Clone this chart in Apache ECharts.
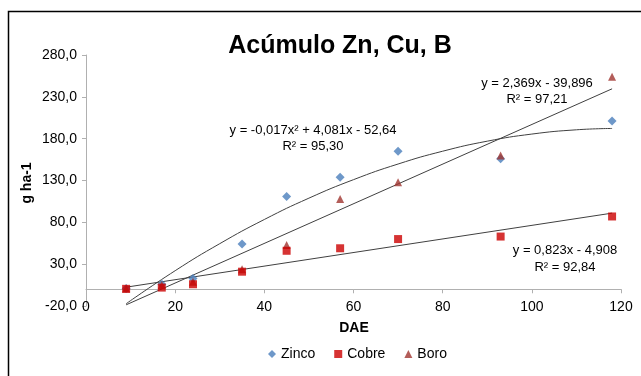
<!DOCTYPE html>
<html>
<head>
<meta charset="utf-8">
<script src="https://cdn.jsdelivr.net/npm/echarts@6/dist/echarts.min.js"></script>
<style>
  html, body { margin: 0; padding: 0; background: #fff; }
  #chart { width: 641px; height: 376px; }
</style>
</head>
<body>
<div id="chart"></div>
<script>
// DAE (days after emergence)
const dae = [9, 17, 24, 35, 45, 57, 70, 93, 118];
const zinco = [1, 6, 13, 54, 111, 134, 165, 156, 201];
const cobre = [0.5, 2, 6, 21, 46, 49, 60, 63, 87];
const boro = [1, 5, 9, 24, 53, 108, 128, 160, 254];

// trend lines
const trendZnX = [9, 20, 30, 40, 50, 60, 70, 80, 90, 100, 110, 118];
const trendZnY = [-17.3, 22.2, 54.5, 83.4, 108.9, 131.0, 149.7, 165.0, 177.0, 185.5, 190.6, 192.2];
const trendBX = [9, 118];
const trendBY = [-18.6, 239.6];
const trendCuX = [9, 118];
const trendCuY = [2.5, 91];

const yTicks = { min: -20, max: 280, step: 50 };
const xTicks = { min: 0, max: 120, step: 20 };

const pairs = (xs, ys) => xs.map((x, i) => [x, ys[i]]);

const chart = echarts.init(document.getElementById('chart'));
const font = 'Liberation Sans, Arial, sans-serif';
const trendStyle = { color: '#404040', width: 1 };
const txt = (x, y, text, f) => ({
  type: 'text', x: x, y: y,
  style: { text: text, font: f || ('13px ' + font), fill: '#000', align: 'center', verticalAlign: 'middle' }
});

chart.setOption({
  animation: false,
  textStyle: { fontFamily: font },
  grid: { left: 86, right: 20, top: 55, bottom: 70 },
  xAxis: {
    type: 'value',
    min: xTicks.min, max: xTicks.max, interval: xTicks.step,
    axisLine: { onZero: true, lineStyle: { color: '#b0b0b0' } },
    axisTick: { show: true, length: 4, lineStyle: { color: '#b0b0b0' } },
    axisLabel: { color: '#000', fontSize: 14, margin: -6 },
    splitLine: { show: false }
  },
  yAxis: {
    type: 'value',
    min: yTicks.min, max: yTicks.max, interval: yTicks.step,
    axisLine: { show: true, onZero: false, lineStyle: { color: '#b0b0b0' } },
    axisTick: { show: true, length: 4, lineStyle: { color: '#b0b0b0' } },
    axisLabel: { color: '#000', fontSize: 14, margin: 9, formatter: v => v.toFixed(1).replace('.', ',') },
    splitLine: { show: false }
  },
  legend: {
    data: [
      { name: 'Zinco', icon: 'diamond' },
      { name: 'Cobre', icon: 'rect' },
      { name: 'Boro', icon: 'triangle' }
    ],
    top: 342, left: 263,
    itemWidth: 8, itemHeight: 8, itemGap: 19,
    textStyle: { fontSize: 14, color: '#000' }
  },
  series: [
    { name: 'trendZn', type: 'line', data: pairs(trendZnX, trendZnY), smooth: true, showSymbol: false, lineStyle: trendStyle, silent: true, z: 1 },
    { name: 'trendB', type: 'line', data: pairs(trendBX, trendBY), showSymbol: false, lineStyle: trendStyle, silent: true, z: 1 },
    { name: 'trendCu', type: 'line', data: pairs(trendCuX, trendCuY), showSymbol: false, lineStyle: trendStyle, silent: true, z: 1 },
    { name: 'Zinco', type: 'scatter', symbol: 'diamond', symbolSize: 9, itemStyle: { color: '#4a7ebb' }, data: pairs(dae, zinco), z: 3 },
    { name: 'Boro', type: 'scatter', symbol: 'triangle', symbolSize: 8, itemStyle: { color: '#a0352f' }, data: pairs(dae, boro), z: 3 },
    { name: 'Cobre', type: 'scatter', symbol: 'rect', symbolSize: 8, itemStyle: { color: '#cc0000' }, data: pairs(dae, cobre), z: 4 }
  ],
  graphic: [
    { type: 'polyline', shape: { points: [[8.5, 376], [8.5, 11.5], [641, 11.5]] }, style: { stroke: '#000', lineWidth: 1.5, fill: null } },
    txt(340, 46, 'Acúmulo Zn, Cu, B', 'bold 25px ' + font),
    Object.assign(txt(27, 183, 'g ha-1', 'bold 14px ' + font), { rotation: Math.PI / 2 }),
    txt(354, 328, 'DAE', 'bold 14px ' + font),
    txt(313, 130, 'y = -0,017x² + 4,081x - 52,64'),
    txt(313, 146, 'R² = 95,30'),
    txt(537, 83, 'y = 2,369x - 39,896'),
    txt(537, 99, 'R² = 97,21'),
    txt(565, 250, 'y = 0,823x - 4,908'),
    txt(565, 267, 'R² = 92,84')
  ]
});
</script>
</body>
</html>
